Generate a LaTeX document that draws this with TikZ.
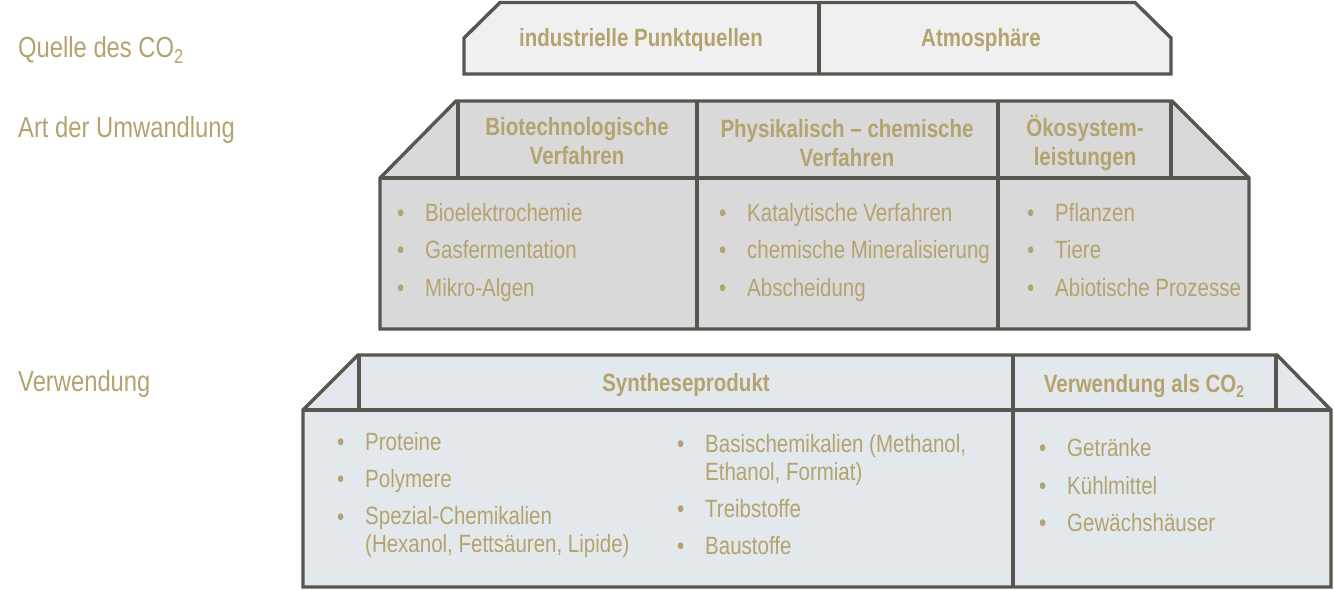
\documentclass[tikz,border=0pt]{standalone}
\usepackage{fontspec}
\setmainfont{Liberation Sans}[FakeStretch=0.82]
\definecolor{gold}{HTML}{B4A36E}
\definecolor{rand}{HTML}{57564F}
\definecolor{hell}{HTML}{F0F0F0}
\definecolor{mittel}{HTML}{D9D9D9}
\definecolor{blaugrau}{HTML}{E3E8EC}
% #1 Groesse, #2 Absenkung, #3 Text
\newcommand{\sub}[3]{\raisebox{-#2pt}{\fontsize{#1}{#1}\selectfont #3}}
\tikzset{
	kante/.style={draw=rand, line width=3.4pt, line join=miter},
	ebene/.style={text=gold, font=\fontsize{29}{32}\selectfont, anchor=base west, inner sep=0},
	kopf/.style={text=gold, font=\bfseries\fontsize{25}{29}\selectfont, align=center, anchor=base, inner sep=0},
	punkt/.style={text=gold, font=\fontsize{25}{27.5}\selectfont, anchor=base west, inner sep=0, align=left},
}
\begin{document}
\begin{tikzpicture}[x=1pt, y=-1pt]
		\useasboundingbox (0,0) rectangle (1334,590);
		% Quelle
		\draw [kante, fill=hell] (464,74) -- (464,38) -- (500,2.5) -- (1135,2.5) -- (1171,38) -- (1171,74) -- cycle;
		\draw [kante] (819,2.5) -- (819,74);
		% Umwandlung
		\draw [kante, fill=mittel] (380,178) -- (456,101) -- (1172,101) -- (1249,178) -- (1249,329) -- (380,329) -- cycle;
		\draw [kante] (380,178) -- (1249,178);
		\draw [kante] (458,101) -- (458,178);
		\draw [kante] (1171,101) -- (1171,178);
		\draw [kante] (697,101) -- (697,329);
		\draw [kante] (998,101) -- (998,329);
		% Verwendung
		\draw [kante, fill=blaugrau] (303,410) -- (358,355) -- (1277,355) -- (1331,410) -- (1331,587) -- (303,587) -- cycle;
		\draw [kante] (303,410) -- (1331,410);
		\draw [kante] (359,355) -- (359,410);
		\draw [kante] (1276,355) -- (1276,410);
		\draw [kante] (1013,355) -- (1013,587);

		% Ebenen
		\node [ebene] (quelle) at (18,57) {Quelle des CO\sub{20}{6}{2}};
		\node [ebene] (art) at (18,137) {Art der Umwandlung};
		\node [ebene] (verwendung) at (18,391) {Verwendung};

		% Koepfe (base = letzte Zeile)
		\node [kopf] (punktquellen) at (641,46) {industrielle Punktquellen};
		\node [kopf] (atmosphaere) at (981,46) {Atmosphäre};
		\node [kopf] (bio) at (577,164) {Biotechnologische\\Verfahren};
		\node [kopf] (phys) at (847,166) {Physikalisch – chemische\\Verfahren};
		\node [kopf] (oeko) at (1085,165) {Ökosystem-\\leistungen};
		\node [kopf] (synthese) at (686,391) {Syntheseprodukt};
		\node [kopf] (alsco) at (1144,392) {Verwendung als CO\sub{17}{5}{2}};

		% Listen
		\foreach \t/\y [count=\i] in {Bioelektrochemie/221, Gasfermentation/258.5, Mikro-Algen/296}{
			\node [punkt] (biop\i) at (397,\y) {•};
			\node [punkt] (biot\i) at (425,\y) {\t};
		}
		\foreach \t/\y [count=\i] in {Katalytische Verfahren/221, chemische Mineralisierung/258.5, Abscheidung/296}{
			\node [punkt] (physp\i) at (719,\y) {•};
			\node [punkt] (physt\i) at (747,\y) {\t};
		}
		\foreach \t/\y [count=\i] in {Pflanzen/221, Tiere/258.5, Abiotische Prozesse/296}{
			\node [punkt] (oekop\i) at (1027,\y) {•};
			\node [punkt] (oekot\i) at (1055,\y) {\t};
		}
		\foreach \t/\y [count=\i] in {Proteine/450, Polymere/487.7}{
			\node [punkt] (synp\i) at (337,\y) {•};
			\node [punkt] (synt\i) at (365,\y) {\t};
		}
		\node [punkt] (synp3) at (337,525) {•};
		\node [punkt] (synt3) at (365,552.3) {Spezial-Chemikalien\\(Hexanol, Fettsäuren, Lipide)};
		\node [punkt] (basp1) at (677,452.7) {•};
		\node [punkt] (bast1) at (705,480) {Basischemikalien (Methanol,\\Ethanol, Formiat)};
		\foreach \t/\y [count=\i from 2] in {Treibstoffe/517.3, Baustoffe/554}{
			\node [punkt] (basp\i) at (677,\y) {•};
			\node [punkt] (bast\i) at (705,\y) {\t};
		}
		\foreach \t/\y [count=\i] in {Getränke/456, Kühlmittel/494, Gewächshäuser/531}{
			\node [punkt] (co2p\i) at (1039,\y) {•};
			\node [punkt] (co2t\i) at (1067,\y) {\t};
		}
	\end{tikzpicture}
\end{document}
